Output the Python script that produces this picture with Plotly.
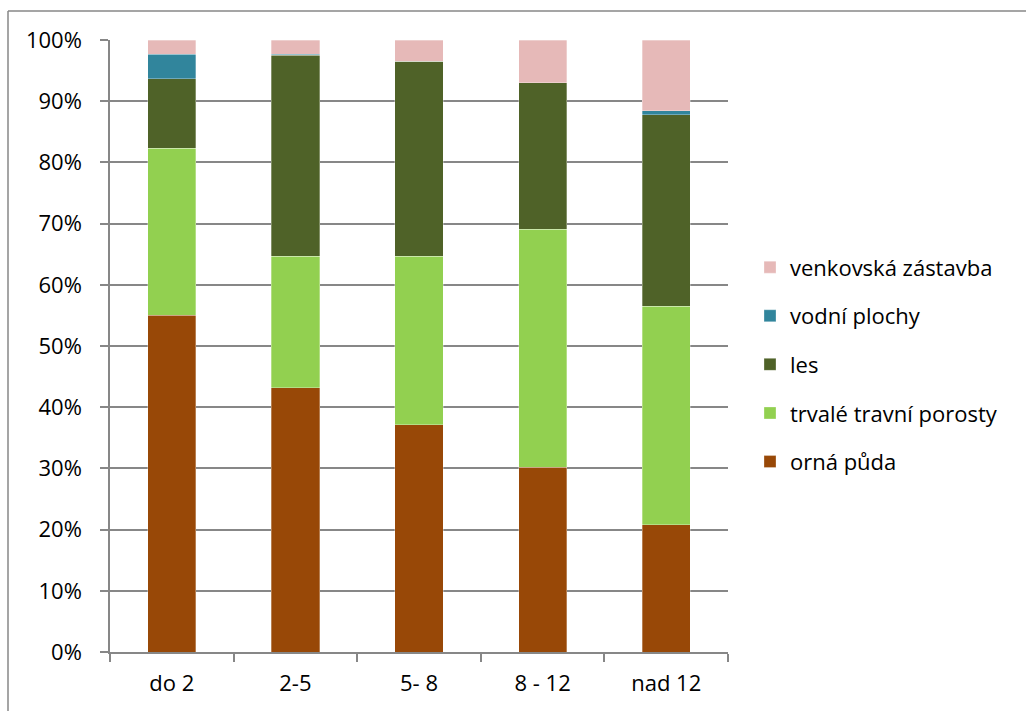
import plotly.graph_objects as go

categories = ["do 2", "2-5", "5- 8", "8 - 12", "nad 12"]

orna_puda = [55.0, 43.2, 37.1, 30.2, 20.8]
trvale_travni_porosty = [27.3, 21.5, 27.6, 38.9, 35.7]
les = [11.4, 32.8, 31.8, 23.9, 31.3]
vodni_plochy = [4.0, 0.2, 0.0, 0.0, 0.6]
venkovska_zastavba = [2.3, 2.3, 3.5, 7.0, 11.6]

series = [
    ("orná půda", orna_puda, "#984807"),
    ("trvalé travní porosty", trvale_travni_porosty, "#92D050"),
    ("les", les, "#4F6228"),
    ("vodní plochy", vodni_plochy, "#31859C"),
    ("venkovská zástavba", venkovska_zastavba, "#E6B9B8"),
]

FONT = "Open Sans, sans-serif"
GRID = "#878787"

fig = go.Figure()
n = len(series)
for i, (name, vals, color) in enumerate(series):
    fig.add_trace(go.Bar(
        x=categories,
        y=[v / 100 for v in vals],
        name=name,
        legendgroup=f"g{i}",
        legendrank=n - i,
        marker=dict(color=color, line=dict(color="rgba(255,255,255,0.5)", width=0.6)),
        width=0.39,
        hoverinfo="x+y+name",
    ))

fig.update_layout(
    barmode="stack",
    width=1026,
    height=711,
    margin=dict(l=110, r=298, t=40, b=59),
    paper_bgcolor="white",
    plot_bgcolor="white",
    font=dict(family=FONT, size=22, color="#000000"),
    legend=dict(
        traceorder="grouped",
        tracegroupgap=17,
        x=0.036,
        xanchor="left",
        xref="paper",
        y=0.47,
        yanchor="middle",
        font=dict(family=FONT, size=22, color="#000000"),
        itemwidth=30,
        bgcolor="rgba(0,0,0,0)",
    ),
    yaxis=dict(
        range=[0, 1],
        tickvals=[i / 10 for i in range(11)],
        tickformat=".0%",
        showgrid=True,
        gridcolor=GRID,
        gridwidth=1.5,
        showline=True,
        linecolor=GRID,
        linewidth=1.5,
        ticks="outside",
        ticklen=8,
        tickcolor=GRID,
        tickwidth=1.5,
        ticklabelstandoff=14,
        zeroline=False,
        fixedrange=True,
    ),
    xaxis=dict(
        showline=True,
        linecolor=GRID,
        linewidth=1.5,
        ticks="outside",
        tickson="boundaries",
        ticklen=8,
        tickcolor=GRID,
        tickwidth=1.5,
        ticklabelstandoff=11,
        showgrid=False,
        fixedrange=True,
    ),
    shapes=[
        # chart frame: top and left edges
        dict(type="line", xref="paper", yref="paper",
             x0=-102 / 618, x1=1.6, y0=(651 - 10) / 612, y1=(651 - 10) / 612,
             line=dict(color=GRID, width=1.5)),
        dict(type="line", xref="paper", yref="paper",
             x0=-102 / 618, x1=-102 / 618, y0=(651 - 10) / 612, y1=-0.2,
             line=dict(color=GRID, width=1.5)),
    ],
)
fig.update_layout(legend_x=1 + 22 / 618)

fig.write_html("out.html")
